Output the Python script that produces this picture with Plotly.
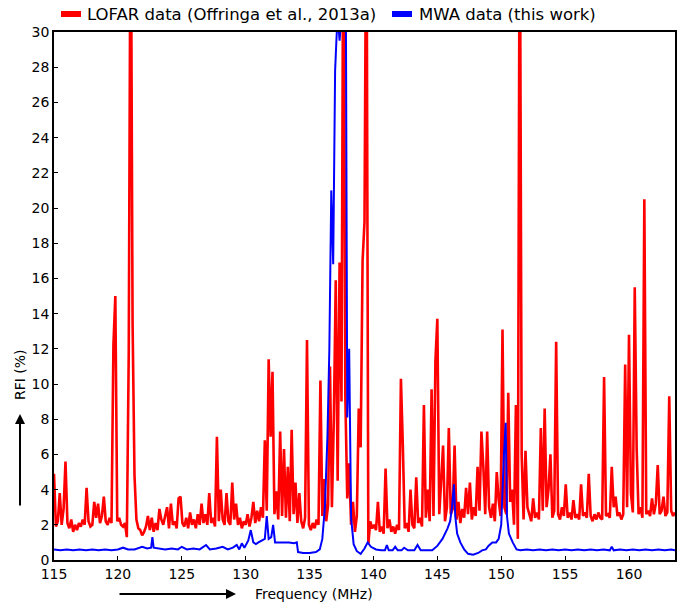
import numpy as np
import plotly.graph_objects as go

# LOFAR channel grid: 115.00 .. 163.60 MHz in 0.15 MHz steps
lofar_start = 115.0
lofar_step = 0.15
lofar_rfi = [
    # 115.00 - 117.85
    4.9, 1.9, 2.2, 3.8, 2.0, 2.9, 5.6, 2.1, 1.8, 2.3, 1.6, 2.0, 1.7, 2.1, 1.9, 2.3, 2.0, 4.1, 2.2, 1.9,
    # 118.00 - 120.85
    2.0, 3.3, 2.4, 3.2, 2.1, 2.5, 3.6, 2.2, 2.0, 2.4, 2.1, 12.2, 15.0, 2.2, 2.4, 2.0, 1.9, 2.1, 1.3, 11.8,
    # 121.00 - 123.85
    40.0, 13.5, 4.8, 2.3, 1.8, 1.7, 1.4, 1.6, 1.9, 2.5, 1.7, 2.4, 1.6, 2.1, 1.7, 2.9, 2.3, 2.0, 2.5, 3.0,
    # 124.00 - 126.85
    1.8, 3.2, 2.0, 2.2, 1.8, 3.5, 3.6, 2.1, 1.9, 2.4, 1.8, 2.7, 2.0, 2.3, 1.8, 2.6, 2.0, 3.2, 2.1, 2.6,
    # 127.00 - 129.85
    2.0, 3.8, 2.1, 2.4, 1.9, 7.0, 2.2, 4.0, 2.3, 2.0, 3.8, 2.2, 2.0, 4.4, 2.3, 3.2, 2.0, 2.4, 1.8, 2.2,
    # 130.00 - 132.85
    2.0, 2.6, 1.9, 2.4, 3.3, 2.1, 2.8, 2.2, 3.0, 2.4, 6.8, 2.8, 11.4, 7.0, 10.7, 2.6, 3.9, 2.3, 7.3, 2.5,
    # 133.00 - 135.85
    6.3, 2.4, 5.3, 2.2, 7.4, 2.6, 4.4, 2.1, 3.8, 2.2, 1.8, 2.4, 12.5, 2.0, 1.7, 2.1, 1.8, 2.3, 2.0, 10.2,
    # 136.00 - 138.85
    2.5, 4.6, 2.2, 3.1, 11.0, 3.0, 8.0, 15.9, 4.5, 16.9, 9.0, 40.0, 9.3, 3.5, 5.5, 2.0, 3.3, 1.6, 2.5, 8.6,
    # 139.00 - 141.85
    6.4, 17.0, 19.2, 40.0, 0.9, 2.2, 1.8, 2.0, 1.7, 3.3, 1.6, 1.9, 1.5, 5.2, 1.8, 2.3, 1.6, 1.9, 1.5, 2.0,
    # 142.00 - 144.85
    1.7, 10.3, 6.5, 1.8, 2.1, 1.6, 4.0, 2.0, 1.8, 4.7, 2.1, 2.4, 1.9, 8.8, 2.4, 4.0, 2.2, 9.7, 2.5, 11.3,
    # 145.00 - 147.85
    13.7, 2.6, 4.5, 6.5, 2.2, 3.0, 7.5, 2.6, 2.9, 6.5, 2.3, 3.3, 2.1, 2.9, 2.4, 4.1, 2.6, 4.4, 2.3, 3.0,
    # 148.00 - 150.85
    2.5, 5.3, 2.8, 7.3, 5.3, 2.6, 7.3, 3.0, 2.4, 3.2, 2.2, 5.0, 3.4, 2.5, 13.1, 3.0, 2.6, 9.5, 3.3, 4.0,
    # 151.00 - 153.85
    2.0, 8.8, 1.2, 40.0, 6.0, 2.3, 6.2, 3.0, 2.6, 2.2, 3.5, 2.4, 2.7, 2.3, 7.5, 2.8, 8.6, 3.0, 4.0, 6.0,
    # 154.00 - 156.85
    2.4, 2.8, 12.4, 2.6, 2.3, 3.0, 2.5, 4.3, 2.4, 2.7, 2.3, 3.4, 2.4, 2.6, 2.3, 4.3, 2.5, 2.7, 2.4, 4.9,
    # 157.00 - 159.85
    2.5, 2.2, 2.6, 2.3, 2.7, 2.4, 2.3, 10.4, 2.5, 2.6, 2.4, 5.3, 3.0, 3.6, 2.5, 2.7, 2.3, 2.6, 11.1, 3.0,
    # 160.00 - 162.85
    12.8, 3.8, 2.7, 15.5, 6.3, 2.6, 3.0, 2.4, 20.5, 2.6, 2.8, 2.5, 3.5, 2.6, 3.2, 5.4, 2.6, 2.8, 3.6, 2.5,
    # 163.00 - 163.60
    2.7, 9.3, 2.8, 2.5, 2.7,
]
lofar_freq = [round(lofar_start + lofar_step * i, 2) for i in range(len(lofar_rfi))]

mwa_freq = [
    115.0, 115.5, 116.0, 116.5, 117.0, 117.5, 118.0, 118.5, 119.0, 119.5, 120.0, 120.4, 120.8,
    121.3, 121.9, 122.3, 122.6, 122.7, 122.8, 123.2, 123.7, 124.2, 124.7, 125.0, 125.4, 125.9,
    126.4, 126.9, 127.2, 127.7, 128.2, 128.6, 129.0, 129.3, 129.5, 129.7, 129.9, 130.2, 130.4,
    130.6, 130.8, 131.0, 131.3, 131.5, 131.65, 131.8, 132.0, 132.15, 132.3, 132.6, 133.0, 133.4,
    133.8, 134.0, 134.1, 134.5, 135.0, 135.5, 135.8, 136.0, 136.2, 136.4, 136.55, 136.7, 136.85,
    137.0, 137.1, 137.2, 137.35, 137.5, 137.7, 137.85, 137.95, 138.1, 138.25, 138.45, 138.7,
    139.0, 139.3, 139.55, 139.8, 140.2, 140.6, 140.9, 141.05, 141.2, 141.5, 141.7, 141.9, 142.2,
    142.4, 142.7, 143.2, 143.45, 143.7, 144.2, 144.6, 145.0, 145.4, 145.8, 146.0, 146.15, 146.3,
    146.4, 146.55, 146.8, 147.1, 147.4, 147.8, 148.2, 148.5, 148.8, 149.0, 149.3, 149.6, 149.8,
    150.0, 150.2, 150.35, 150.45, 150.6, 150.9, 151.2, 151.5, 152.0, 152.5, 153.0, 153.5, 154.0,
    154.5, 155.0, 155.5, 156.0, 156.5, 157.0, 157.5, 158.0, 158.5, 158.65, 158.8, 159.3, 159.8,
    160.3, 160.8, 161.3, 161.8, 162.3, 162.8, 163.3, 163.6,
]
mwa_rfi = [
    0.6, 0.55, 0.6, 0.55, 0.6, 0.55, 0.6, 0.55, 0.6, 0.55, 0.6, 0.7, 0.6,
    0.6, 0.75, 0.65, 0.7, 1.3, 0.7, 0.65, 0.6, 0.65, 0.6, 0.75, 0.6, 0.65,
    0.6, 0.85, 0.6, 0.65, 0.75, 0.6, 0.7, 0.85, 0.6, 0.95, 0.7, 1.1, 1.7,
    1.0, 0.9, 1.0, 1.1, 1.2, 2.5, 1.2, 1.3, 2.0, 1.0, 1.0, 1.0, 1.0,
    0.95, 1.0, 0.45, 0.4, 0.4, 0.45, 0.6, 1.2, 3.0, 7.0, 12.0, 21.0, 16.8,
    27.8, 29.5, 31.0, 29.5, 31.0, 31.0, 30.0, 8.1, 12.0, 2.4, 0.9, 0.5,
    0.35, 0.65, 1.0, 0.75, 0.6, 0.55, 0.55, 0.85, 0.55, 0.55, 0.75, 0.55, 0.55,
    0.7, 0.55, 0.55, 0.85, 0.55, 0.55, 0.55, 0.8, 1.2, 1.8, 2.2, 3.0, 4.3,
    2.5, 1.5, 1.0, 0.6, 0.35, 0.3, 0.4, 0.55, 0.6, 0.8, 1.0, 1.0, 1.2,
    2.0, 5.8, 7.8, 2.5, 1.5, 1.0, 0.6, 0.55, 0.6, 0.55, 0.6, 0.55, 0.6,
    0.55, 0.6, 0.55, 0.6, 0.55, 0.6, 0.55, 0.6, 0.55, 0.75, 0.55, 0.6, 0.55,
    0.6, 0.55, 0.6, 0.55, 0.6, 0.55, 0.6, 0.55,
]

x_ticks = [115, 120, 125, 130, 135, 140, 145, 150, 155, 160]
y_ticks = list(range(0, 31, 2))

legend_labels = ["LOFAR data (Offringa et al., 2013a)", "MWA data (this work)"]
RED = "#ff0000"
BLUE = "#0000ff"
FONT = "DejaVu Sans"

fig = go.Figure()
fig.add_trace(go.Scatter(x=lofar_freq, y=lofar_rfi, mode="lines",
                         line=dict(color=RED, width=2.6), name=legend_labels[0],
                         showlegend=False))
fig.add_trace(go.Scatter(x=mwa_freq, y=mwa_rfi, mode="lines",
                         line=dict(color=BLUE, width=2.0), name=legend_labels[1],
                         showlegend=False))

# page pixels (body margin removed via post_script)
W, H = 680, 605
PL, PR, PT, PB = 54, 675, 32, 560  # plot area in page pixels
L, R, T, B = PL, W - PR, PT, H - PB
pw, ph = PR - PL, PB - PT


def px(xp):
    return (xp - PL) / pw


def py(yp):
    return (PB - yp) / ph


shapes = []
annotations = []
# manual legend
for (x0, x1, tx, label, col) in [(61, 81, 85, legend_labels[0], RED),
                                 (392, 412, 417, legend_labels[1], BLUE)]:
    shapes.append(dict(type="line", xref="paper", yref="paper",
                       x0=px(x0), x1=px(x1), y0=py(14), y1=py(14),
                       line=dict(color=col, width=6)))
    annotations.append(dict(text=label, xref="paper", yref="paper",
                            x=px(tx), y=py(15), xanchor="left", yanchor="middle",
                            showarrow=False, font=dict(family=FONT, size=16.5, color="black")))

# axis labels with arrows
annotations.append(dict(text="Frequency (MHz)", xref="paper", yref="paper",
                        x=px(314), y=py(594), xanchor="center", yanchor="middle",
                        showarrow=False, font=dict(family=FONT, size=14, color="black")))
annotations.append(dict(text="", xref="paper", yref="paper", x=px(236), y=py(594),
                        ax=-118, ay=0, showarrow=True, arrowhead=2, arrowsize=1,
                        arrowwidth=2, arrowcolor="black"))
annotations.append(dict(text="RFI (%)", xref="paper", yref="paper",
                        x=px(20), y=py(375), xanchor="center", yanchor="middle",
                        textangle=-90, showarrow=False,
                        font=dict(family=FONT, size=14, color="black")))
annotations.append(dict(text="", xref="paper", yref="paper", x=px(20), y=py(414),
                        ax=0, ay=93, showarrow=True, arrowhead=2, arrowsize=1,
                        arrowwidth=2, arrowcolor="black"))

axis_common = dict(showgrid=False, zeroline=False, showline=True, linecolor="black",
                   linewidth=1.5, mirror=True, ticks="inside", ticklen=4,
                   tickcolor="black", tickfont=dict(family=FONT, size=14, color="black"))

fig.update_layout(
    width=W, height=H,
    margin=dict(l=L, r=R, t=T, b=B, autoexpand=False),
    paper_bgcolor="white", plot_bgcolor="white",
    showlegend=False,
    shapes=shapes, annotations=annotations,
    xaxis=dict(range=[115, 163.6], tickvals=x_ticks, **axis_common),
    yaxis=dict(range=[0, 30], tickvals=y_ticks, **axis_common),
)

fig.write_html("out.html",
               config={"displayModeBar": False},
               post_script="document.body.style.margin='0px';document.body.style.overflow='hidden';")
